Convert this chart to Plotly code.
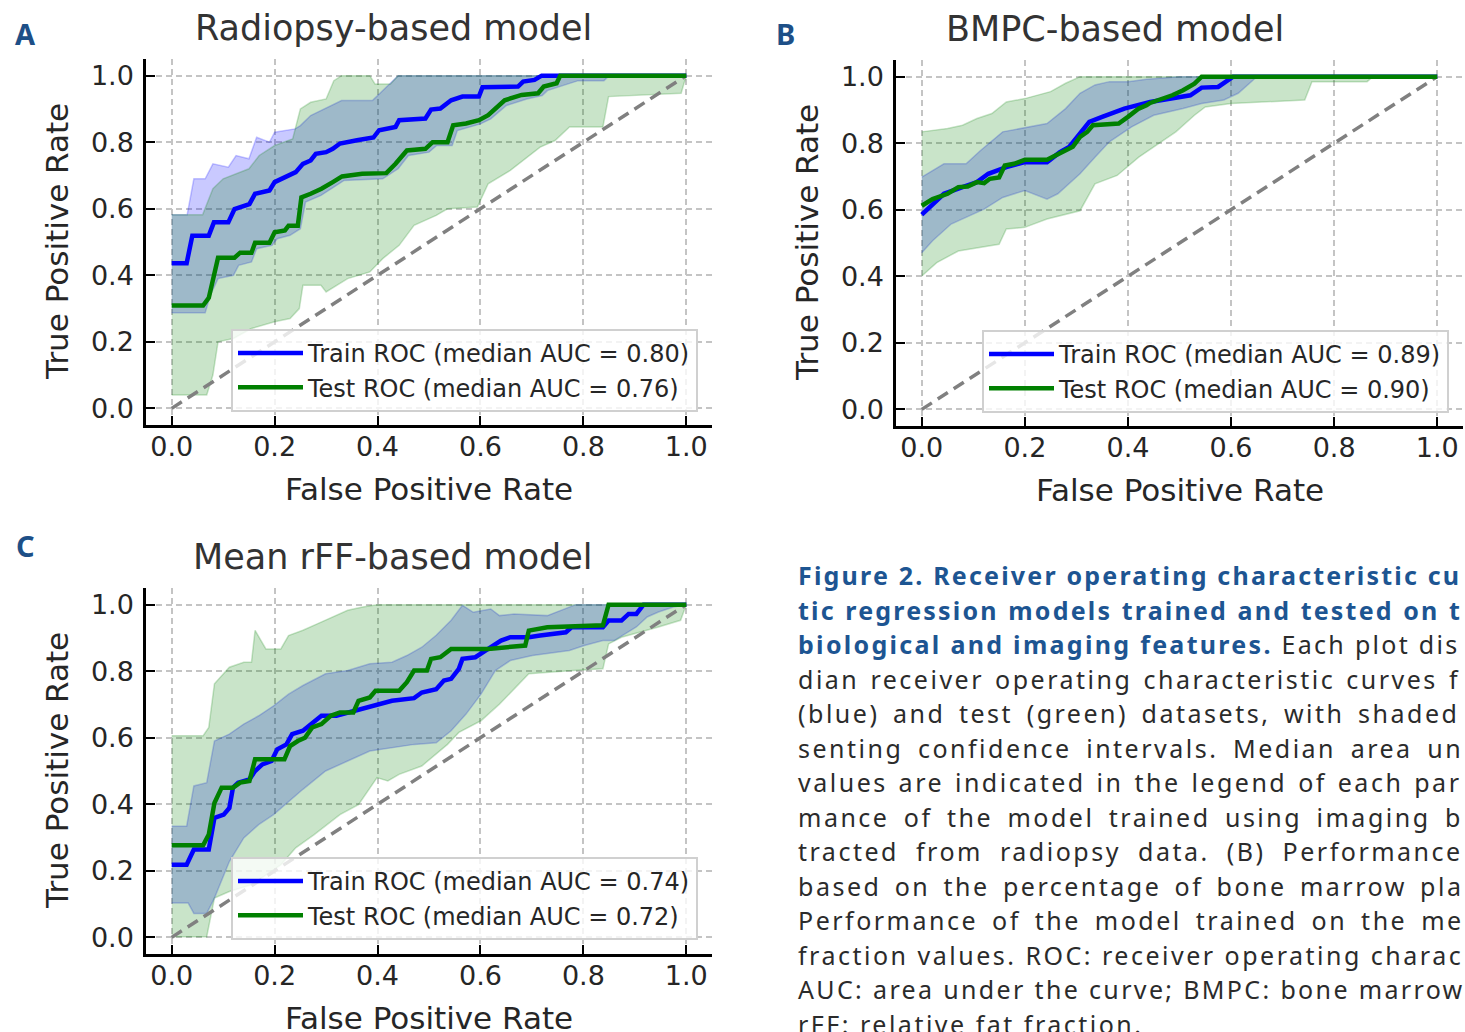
import plotly.graph_objects as go

W, H = 1465, 1032

# ---------------- data ----------------
# Panel A: Radiopsy-based model
A_train_fpr = [0, 0.029, 0.04, 0.072, 0.082, 0.11, 0.122, 0.151, 0.162, 0.19, 0.2, 0.227, 0.241, 0.255, 0.27, 0.28, 0.30, 0.313, 0.327, 0.36, 0.392, 0.403, 0.417, 0.435, 0.442, 0.493, 0.504, 0.522, 0.543, 0.565, 0.597, 0.604, 0.673, 0.683, 0.705, 0.719, 1.0]
A_train_tpr = [0.436, 0.436, 0.519, 0.519, 0.559, 0.559, 0.599, 0.614, 0.645, 0.655, 0.68, 0.70, 0.71, 0.735, 0.745, 0.765, 0.77, 0.78, 0.796, 0.806, 0.814, 0.836, 0.841, 0.846, 0.866, 0.871, 0.898, 0.901, 0.926, 0.937, 0.937, 0.965, 0.967, 0.982, 0.987, 1.0, 1.0]
A_test_fpr = [0, 0.061, 0.072, 0.09, 0.122, 0.133, 0.155, 0.162, 0.19, 0.2, 0.22, 0.227, 0.245, 0.252, 0.27, 0.291, 0.313, 0.331, 0.37, 0.417, 0.435, 0.457, 0.493, 0.507, 0.536, 0.547, 0.572, 0.597, 0.615, 0.647, 0.68, 0.712, 0.723, 0.748, 0.755, 1.0]
A_test_tpr = [0.309, 0.309, 0.332, 0.453, 0.453, 0.468, 0.468, 0.498, 0.498, 0.529, 0.535, 0.549, 0.549, 0.634, 0.645, 0.66, 0.68, 0.697, 0.705, 0.707, 0.735, 0.775, 0.78, 0.80, 0.80, 0.851, 0.856, 0.866, 0.881, 0.926, 0.942, 0.947, 0.967, 0.977, 1.0, 1.0]
A_train_hi_fpr = [0, 0.03, 0.043, 0.065, 0.08, 0.11, 0.125, 0.15, 0.165, 0.19, 0.2, 0.24, 0.25, 0.27, 0.33, 0.39, 0.44, 1.0]
A_train_hi_tpr = [0.582, 0.582, 0.69, 0.69, 0.735, 0.725, 0.76, 0.75, 0.815, 0.80, 0.83, 0.84, 0.85, 0.88, 0.925, 0.925, 1.0, 1.0]
A_train_lo_fpr = [0, 0.065, 0.075, 0.09, 0.12, 0.13, 0.155, 0.165, 0.195, 0.205, 0.23, 0.25, 0.26, 0.29, 0.315, 0.335, 0.41, 0.44, 0.46, 0.50, 0.515, 0.545, 0.555, 0.60, 0.62, 0.65, 0.69, 0.72, 0.73, 0.76, 0.79, 0.84, 0.85, 1.0]
A_train_lo_tpr = [0.287, 0.287, 0.34, 0.39, 0.40, 0.43, 0.44, 0.48, 0.49, 0.51, 0.52, 0.54, 0.62, 0.64, 0.665, 0.685, 0.69, 0.72, 0.76, 0.77, 0.79, 0.79, 0.835, 0.855, 0.87, 0.91, 0.93, 0.94, 0.955, 0.97, 0.985, 0.985, 1.0, 1.0]
A_test_hi_fpr = [0, 0.06, 0.08, 0.1, 0.15, 0.17, 0.2, 0.235, 0.25, 0.27, 0.30, 0.315, 0.33, 0.385, 0.395, 0.425, 0.44, 1.0]
A_test_hi_tpr = [0.582, 0.582, 0.66, 0.69, 0.72, 0.76, 0.79, 0.81, 0.90, 0.92, 0.93, 0.985, 1.0, 1.0, 0.975, 0.975, 1.0, 1.0]
A_test_lo_fpr = [0, 0.068, 0.08, 0.09, 0.12, 0.155, 0.2, 0.23, 0.248, 0.255, 0.29, 0.30, 0.342, 0.385, 0.41, 0.442, 0.471, 0.514, 0.536, 0.594, 0.615, 0.658, 0.716, 0.745, 0.773, 0.838, 0.849, 0.99, 1.0]
A_test_lo_tpr = [0.04, 0.04, 0.1, 0.2, 0.21, 0.24, 0.26, 0.27, 0.30, 0.37, 0.37, 0.35, 0.39, 0.41, 0.45, 0.49, 0.55, 0.58, 0.60, 0.605, 0.675, 0.715, 0.785, 0.805, 0.846, 0.846, 0.937, 0.947, 1.0]

# Panel B: BMPC-based model
B_train_fpr = [0, 0.043, 0.079, 0.107, 0.129, 0.164, 0.2, 0.243, 0.268, 0.286, 0.307, 0.325, 0.35, 0.393, 0.443, 0.486, 0.521, 0.543, 0.575, 0.604, 1.0]
B_train_tpr = [0.585, 0.648, 0.668, 0.683, 0.708, 0.728, 0.743, 0.743, 0.773, 0.789, 0.829, 0.864, 0.879, 0.904, 0.924, 0.934, 0.944, 0.967, 0.969, 1.0, 1.0]
B_test_fpr = [0, 0.021, 0.05, 0.071, 0.089, 0.107, 0.121, 0.132, 0.15, 0.161, 0.179, 0.2, 0.243, 0.271, 0.293, 0.307, 0.321, 0.332, 0.382, 0.4, 0.421, 0.436, 0.443, 0.486, 0.507, 0.529, 0.543, 1.0]
B_test_tpr = [0.612, 0.632, 0.648, 0.668, 0.67, 0.683, 0.68, 0.693, 0.697, 0.733, 0.738, 0.75, 0.75, 0.773, 0.789, 0.819, 0.834, 0.854, 0.859, 0.879, 0.904, 0.914, 0.921, 0.944, 0.959, 0.979, 1.0, 1.0]
B_train_hi_fpr = [0, 0.043, 0.086, 0.114, 0.157, 0.2, 0.243, 0.279, 0.307, 0.336, 0.364, 0.4, 0.436, 0.5, 1.0]
B_train_hi_tpr = [0.698, 0.738, 0.738, 0.778, 0.834, 0.847, 0.859, 0.904, 0.95, 0.975, 0.985, 0.985, 0.992, 1.0, 1.0]
B_train_lo_fpr = [0, 0.021, 0.057, 0.086, 0.121, 0.157, 0.2, 0.243, 0.264, 0.307, 0.336, 0.364, 0.407, 0.45, 0.507, 0.543, 0.586, 0.614, 0.643, 0.65, 1.0]
B_train_lo_tpr = [0.471, 0.507, 0.557, 0.577, 0.602, 0.637, 0.658, 0.632, 0.648, 0.708, 0.758, 0.804, 0.849, 0.884, 0.904, 0.919, 0.93, 0.95, 0.99, 1.0, 1.0]
B_test_hi_fpr = [0, 0.05, 0.079, 0.107, 0.136, 0.164, 0.2, 0.25, 0.279, 0.307, 1.0]
B_test_hi_tpr = [0.834, 0.844, 0.854, 0.874, 0.889, 0.924, 0.934, 0.955, 0.98, 1.0, 1.0]
B_test_lo_fpr = [0, 0.029, 0.071, 0.107, 0.15, 0.164, 0.2, 0.243, 0.307, 0.336, 0.379, 0.421, 0.45, 0.493, 0.529, 0.55, 0.6, 0.743, 0.757, 0.864, 0.875, 1.0]
B_test_lo_tpr = [0.401, 0.441, 0.476, 0.486, 0.496, 0.542, 0.547, 0.572, 0.597, 0.678, 0.703, 0.758, 0.789, 0.834, 0.884, 0.909, 0.919, 0.93, 0.985, 0.985, 1.0, 1.0]

# Panel C: Mean rFF-based model
C_train_fpr = [0, 0.029, 0.043, 0.072, 0.083, 0.101, 0.112, 0.119, 0.129, 0.151, 0.162, 0.176, 0.194, 0.205, 0.223, 0.234, 0.255, 0.291, 0.32, 0.356, 0.378, 0.399, 0.428, 0.471, 0.486, 0.514, 0.529, 0.543, 0.558, 0.565, 0.59, 0.615, 0.64, 0.658, 0.694, 0.716, 0.74, 0.766, 0.777, 0.838, 0.849, 0.874, 0.888, 0.903, 0.917, 1.0]
C_train_tpr = [0.218, 0.218, 0.264, 0.264, 0.359, 0.369, 0.389, 0.45, 0.465, 0.475, 0.5, 0.52, 0.53, 0.565, 0.58, 0.611, 0.621, 0.666, 0.666, 0.681, 0.691, 0.701, 0.711, 0.719, 0.736, 0.746, 0.772, 0.777, 0.807, 0.837, 0.842, 0.867, 0.892, 0.902, 0.902, 0.907, 0.912, 0.917, 0.932, 0.932, 0.952, 0.952, 0.972, 0.972, 1.0, 1.0]
C_test_fpr = [0, 0.061, 0.072, 0.083, 0.097, 0.119, 0.133, 0.151, 0.162, 0.219, 0.23, 0.245, 0.259, 0.273, 0.291, 0.309, 0.327, 0.353, 0.363, 0.385, 0.396, 0.442, 0.457, 0.471, 0.496, 0.504, 0.522, 0.543, 0.615, 0.651, 0.687, 0.694, 0.73, 0.838, 0.849, 1.0]
C_test_tpr = [0.277, 0.277, 0.309, 0.404, 0.45, 0.45, 0.465, 0.47, 0.535, 0.535, 0.575, 0.59, 0.60, 0.631, 0.641, 0.666, 0.676, 0.676, 0.711, 0.721, 0.741, 0.741, 0.767, 0.802, 0.802, 0.837, 0.842, 0.867, 0.867, 0.872, 0.877, 0.922, 0.932, 0.938, 1.0, 1.0]
C_train_hi_fpr = [0, 0.029, 0.043, 0.068, 0.083, 0.112, 0.14, 0.169, 0.198, 0.227, 0.255, 0.299, 0.342, 0.385, 0.428, 0.457, 0.486, 0.514, 0.543, 0.565, 0.586, 0.62, 0.637, 0.665, 0.73, 0.766, 0.785, 1.0]
C_train_hi_tpr = [0.334, 0.334, 0.455, 0.465, 0.59, 0.611, 0.641, 0.666, 0.696, 0.731, 0.757, 0.792, 0.802, 0.822, 0.827, 0.847, 0.872, 0.908, 0.953, 0.998, 0.977, 0.987, 0.967, 0.972, 0.967, 0.99, 1.0, 1.0]
C_train_lo_fpr = [0, 0.032, 0.043, 0.068, 0.083, 0.112, 0.14, 0.169, 0.198, 0.227, 0.255, 0.299, 0.342, 0.385, 0.428, 0.471, 0.514, 0.543, 0.572, 0.601, 0.629, 0.658, 0.701, 0.745, 0.773, 0.802, 0.838, 0.86, 0.903, 0.924, 0.946, 0.975, 1.0]
C_train_lo_tpr = [0.103, 0.103, 0.072, 0.072, 0.118, 0.228, 0.299, 0.339, 0.369, 0.409, 0.445, 0.5, 0.53, 0.56, 0.57, 0.58, 0.585, 0.621, 0.671, 0.731, 0.802, 0.832, 0.847, 0.857, 0.862, 0.877, 0.892, 0.892, 0.933, 0.963, 0.978, 0.993, 1.0]
C_test_hi_fpr = [0, 0.061, 0.072, 0.083, 0.112, 0.14, 0.155, 0.162, 0.183, 0.212, 0.227, 0.255, 0.284, 0.313, 0.342, 0.371, 0.399, 1.0]
C_test_hi_tpr = [0.606, 0.606, 0.631, 0.762, 0.812, 0.827, 0.827, 0.923, 0.867, 0.867, 0.907, 0.923, 0.943, 0.963, 0.983, 0.993, 1.0, 1.0]
C_test_lo_fpr = [0, 0.068, 0.083, 0.112, 0.155, 0.212, 0.241, 0.277, 0.327, 0.363, 0.399, 0.42, 0.442, 0.486, 0.536, 0.558, 0.601, 0.637, 0.694, 0.73, 0.781, 0.838, 0.849, 0.874, 0.946, 0.989, 1.0]
C_test_lo_tpr = [0.002, 0.002, 0.118, 0.138, 0.158, 0.218, 0.269, 0.309, 0.369, 0.399, 0.48, 0.47, 0.49, 0.515, 0.58, 0.616, 0.651, 0.701, 0.792, 0.797, 0.802, 0.807, 0.882, 0.902, 0.933, 0.953, 1.0]

diag = [0, 1]

titles = ["Radiopsy-based model", "BMPC-based model", "Mean rFF-based model"]
panel_letters = ["A", "B", "C"]
train_auc = ["0.80", "0.89", "0.74"]
test_auc = ["0.76", "0.90", "0.72"]
tick_vals = [0.0, 0.2, 0.4, 0.6, 0.8, 1.0]
tick_text = ["0.0", "0.2", "0.4", "0.6", "0.8", "1.0"]

# caption: (bold part, regular part) per line, as visible in the (cropped) figure
caption_bold = [
    "Figure 2. Receiver operating characteristic cu",
    "tic regression models trained and tested on t",
    "biological and imaging features.",
    "", "", "", "", "", "", "", "", "", "", "",
]
caption_regular = [
    "",
    "",
    " Each plot dis",
    "dian receiver operating characteristic curves f",
    "(blue) and test (green) datasets, with shaded",
    "senting confidence intervals. Median area un",
    "values are indicated in the legend of each par",
    "mance of the model trained using imaging b",
    "tracted from radiopsy data. (B) Performance",
    "based on the percentage of bone marrow pla",
    "Performance of the model trained on the me",
    "fraction values. ROC: receiver operating charac",
    "AUC: area under the curve; BMPC: bone marrow",
    "rFF: relative fat fraction.",
]
# typographic spacing (px) per caption line to imitate the justified, tracked text
cap_letter_sp = [2.2, 2.2, 2.3, 2.5, 2.5, 2.5, 2.5, 2.5, 2.5, 2.5, 2.5, 2.5, 2.35, 2.5]
cap_word_sp = [0, 0.8, 0, 2.1, 4.6, 5.6, 1.9, 5.4, 8.1, 4.3, 5.0, 0, 0, 0]

panels = [
    dict(train=(A_train_fpr, A_train_tpr), test=(A_test_fpr, A_test_tpr),
         trhi=(A_train_hi_fpr, A_train_hi_tpr), trlo=(A_train_lo_fpr, A_train_lo_tpr),
         tehi=(A_test_hi_fpr, A_test_hi_tpr), telo=(A_test_lo_fpr, A_test_lo_tpr)),
    dict(train=(B_train_fpr, B_train_tpr), test=(B_test_fpr, B_test_tpr),
         trhi=(B_train_hi_fpr, B_train_hi_tpr), trlo=(B_train_lo_fpr, B_train_lo_tpr),
         tehi=(B_test_hi_fpr, B_test_hi_tpr), telo=(B_test_lo_fpr, B_test_lo_tpr)),
    dict(train=(C_train_fpr, C_train_tpr), test=(C_test_fpr, C_test_tpr),
         trhi=(C_train_hi_fpr, C_train_hi_tpr), trlo=(C_train_lo_fpr, C_train_lo_tpr),
         tehi=(C_test_hi_fpr, C_test_hi_tpr), telo=(C_test_lo_fpr, C_test_lo_tpr)),
]

# ---------------- layout geometry (pixels) ----------------
def px(x):
    return x / W

def py(y):
    return 1 - y / H

# axes boxes: left, right, top, bottom (px)
boxes = [(146, 712, 59, 425), (896, 1463, 60, 426), (146, 712, 588, 954)]
legend_pos = [(698, 412), (1449, 413), (698, 940)]

FONT = "DejaVu Sans"
TXT = "#262626"
BLUE = "#0000ff"
GREEN = "#008000"
BLUE_FILL = "rgba(0,0,255,0.21)"
GREEN_FILL = "rgba(0,128,0,0.21)"

fig = go.Figure()

for i, p in enumerate(panels):
    xa = "x" if i == 0 else f"x{i+1}"
    ya = "y" if i == 0 else f"y{i+1}"
    lg = "legend" if i == 0 else f"legend{i+1}"
    for key_hi, key_lo, fill in (("trhi", "trlo", BLUE_FILL), ("tehi", "telo", GREEN_FILL)):
        hx, hy = p[key_hi]
        lx, ly = p[key_lo]
        fig.add_trace(go.Scatter(
            x=list(hx) + list(lx)[::-1], y=list(hy) + list(ly)[::-1],
            fill="toself", fillcolor=fill, mode="lines",
            line=dict(color=fill, width=1.5),
            showlegend=False, hoverinfo="skip", xaxis=xa, yaxis=ya))
    fig.add_trace(go.Scatter(x=diag, y=diag, mode="lines",
                             line=dict(color="#808080", width=3.5, dash="12px,7px"),
                             showlegend=False, hoverinfo="skip", xaxis=xa, yaxis=ya))
    fig.add_trace(go.Scatter(x=p["train"][0], y=p["train"][1], mode="lines",
                             line=dict(color=BLUE, width=4.5),
                             name=f"Train ROC (median AUC = {train_auc[i]})",
                             legend=lg, xaxis=xa, yaxis=ya))
    fig.add_trace(go.Scatter(x=p["test"][0], y=p["test"][1], mode="lines",
                             line=dict(color=GREEN, width=4.5),
                             name=f"Test ROC (median AUC = {test_auc[i]})",
                             legend=lg, xaxis=xa, yaxis=ya))

axis_common = dict(range=[-0.05, 1.05], tickvals=tick_vals, ticktext=tick_text,
                   showgrid=True, gridcolor="#c4c4c4", griddash="6px,4px", gridwidth=1.5,
                   zeroline=False, showline=True, linecolor="black", linewidth=2.5,
                   ticks="inside", ticklen=9, tickwidth=2, tickcolor="black",
                   tickfont=dict(family=FONT, size=27, color=TXT), fixedrange=True)

layout = dict(width=W, height=H, margin=dict(l=0, r=0, t=0, b=0),
              paper_bgcolor="white", plot_bgcolor="white",
              font=dict(family=FONT, color=TXT))

annotations = []
for i, (l, r, t, b) in enumerate(boxes):
    sfx = "" if i == 0 else str(i + 1)
    layout["xaxis" + sfx] = dict(axis_common, domain=[px(l), px(r)], anchor="y" + sfx,
                                 ticklabelstandoff=-4)
    layout["yaxis" + sfx] = dict(axis_common, domain=[py(b), py(t)], anchor="x" + sfx,
                                 ticklabelstandoff=4)
    lx, ly = legend_pos[i]
    layout["legend" + sfx] = dict(x=px(lx), y=py(ly), xanchor="right", yanchor="bottom",
                                  bgcolor="rgba(255,255,255,0.8)", bordercolor="#d0d0d0",
                                  borderwidth=2, font=dict(family=FONT, size=24, color=TXT),
                                  itemwidth=65, tracegroupgap=0)
    cx = (l + r) / 2
    cy = (t + b) / 2
    # axis titles
    annotations.append(dict(text="False Positive Rate", x=px(cx), y=py(b + 64),
                            xref="paper", yref="paper", showarrow=False,
                            xanchor="center", yanchor="middle",
                            font=dict(family=FONT, size=31, color=TXT)))
    annotations.append(dict(text="True Positive Rate", x=px(l - 89), y=py(cy),
                            xref="paper", yref="paper", showarrow=False, textangle=-90,
                            xanchor="center", yanchor="middle",
                            font=dict(family=FONT, size=31, color=TXT)))

title_pos = [(393, 28), (1115, 29), (393, 557)]
letter_pos = [(25, 33), (785, 33), (25, 545)]
for i in range(3):
    tx, ty = title_pos[i]
    annotations.append(dict(text=titles[i], x=px(tx), y=py(ty), xref="paper", yref="paper",
                            showarrow=False, xanchor="center", yanchor="middle",
                            font=dict(family=FONT, size=35, color="#333333")))
    lx, ly = letter_pos[i]
    annotations.append(dict(text=f"<b>{panel_letters[i]}</b>", x=px(lx), y=py(ly),
                            xref="paper", yref="paper", showarrow=False,
                            xanchor="center", yanchor="middle",
                            font=dict(family="Noto Sans", size=29, color="#1d4f87")))

cap_y0 = 575
cap_dy = 34.5
for k in range(len(caption_regular)):
    sp = f"letter-spacing:{cap_letter_sp[k]}px;word-spacing:{cap_word_sp[k]}px"
    txt = ""
    if caption_bold[k]:
        txt += f"<b><span style='color:#1d5592;{sp}'>{caption_bold[k]}</span></b>"
    if caption_regular[k]:
        txt += f"<span style='{sp}'>{caption_regular[k]}</span>"
    annotations.append(dict(text=txt, x=px(796), y=py(cap_y0 + k * cap_dy),
                            xref="paper", yref="paper", showarrow=False,
                            xanchor="left", yanchor="middle", align="left",
                            font=dict(family="Noto Sans", size=25, color="#2b2b2b")))

layout["annotations"] = annotations
fig.update_layout(**layout)

fig.write_html("out.html")
